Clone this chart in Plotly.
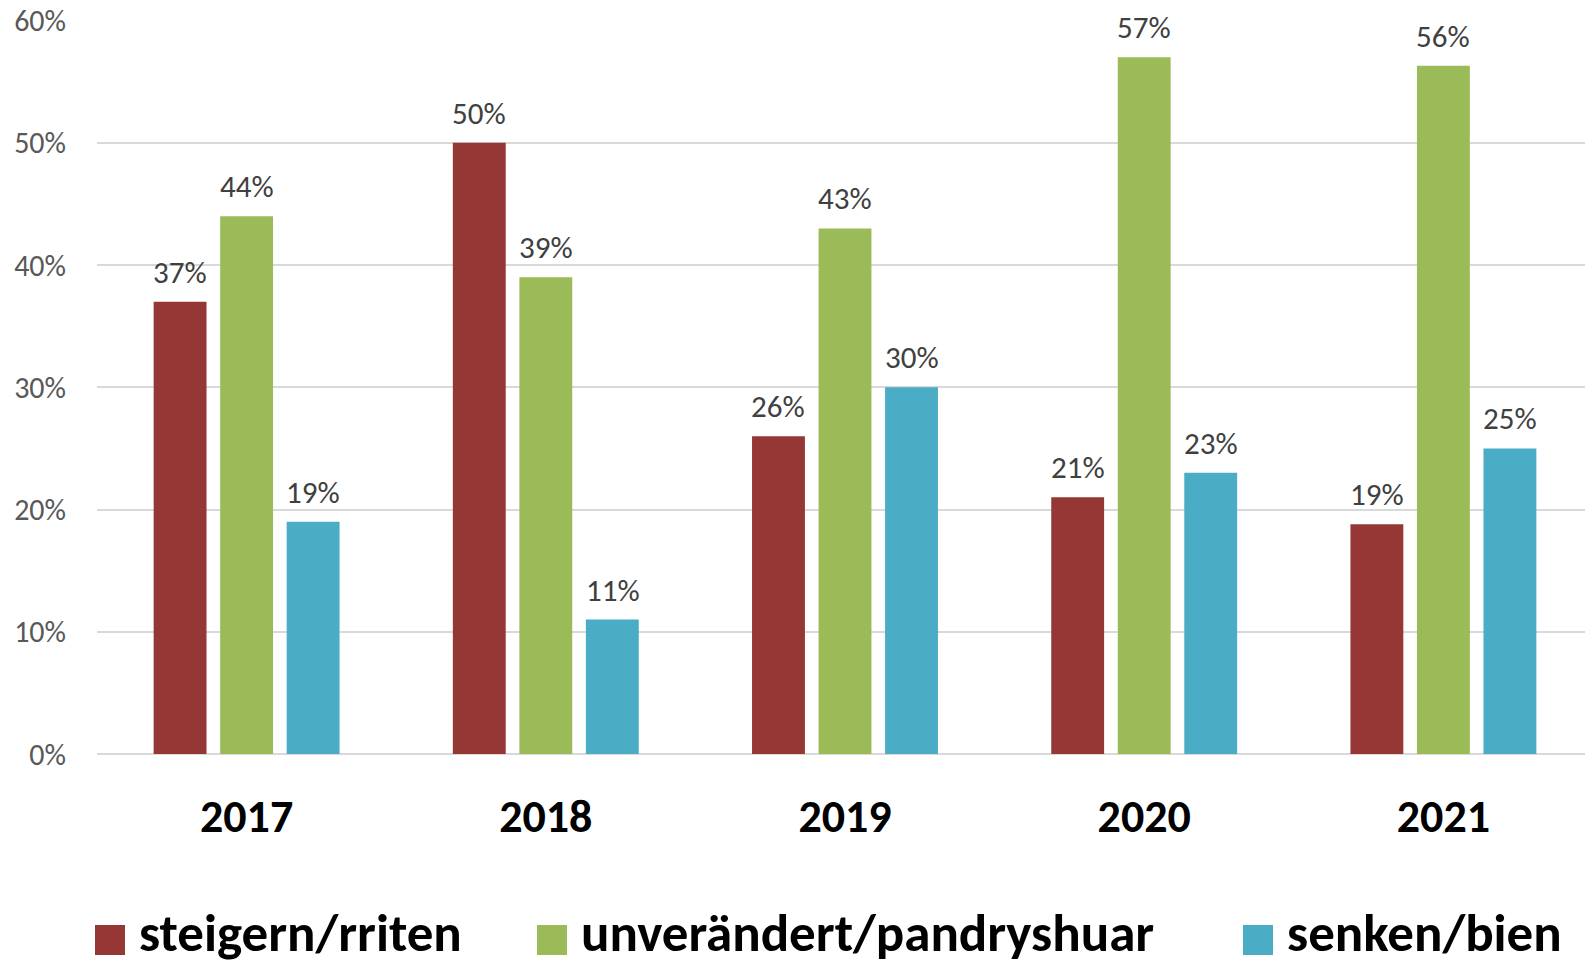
import plotly.graph_objects as go

years = ["2017", "2018", "2019", "2020", "2021"]
series_names = ["steigern/rriten", "unverändert/pandryshuar", "senken/bien"]
steigern = [37, 50, 26, 21, 18.8]
unveraendert = [44, 39, 43, 57, 56.3]
senken = [19, 11, 30, 23, 25]
colors = ["#953735", "#9bbb59", "#4bacc6"]
y_ticks = [0, 10, 20, 30, 40, 50, 60]

FONT = "Calibri, Carlito, Lato, sans-serif"
all_series = [steigern, unveraendert, senken]

# the page body has an 8px margin, so the figure is laid out 8px smaller
OFF = 8
W, H = 1593 - OFF, 964 - OFF
L, R, T, B = 97 - OFF, 0, 20 - OFF, 210
PW, PH = W - L - R, H - T - B

fig = go.Figure()
for name, vals, col in zip(series_names, all_series, colors):
    fig.add_trace(go.Bar(
        x=years, y=[v / 100 for v in vals], name=name,
        marker=dict(color=col, line=dict(width=0)),
        showlegend=False,
    ))

# data labels above bars
slot = 66.7
for i, vals in enumerate(all_series):
    for j, v in enumerate(vals):
        fig.add_annotation(
            x=j, y=v / 100, xref="x", yref="y",
            text=f"{round(v)}%", showarrow=False,
            xshift=(i - 1) * slot, yshift=9, yanchor="bottom",
            font=dict(family=FONT, size=31, color="#404040"),
        )

# manual legend (page pixel positions converted to paper coords)
legend_items = [(95, 140), (537, 582), (1243, 1288)]
def px_x(px):
    return (px - OFF - L) / PW
def px_y(py):
    return (H - B - (py - OFF)) / PH

LEG_SIZE = 53
baseline = 954
for (sx, tx), name, col in zip(legend_items, series_names, colors):
    fig.add_shape(type="rect", xref="paper", yref="paper",
                  x0=px_x(sx), x1=px_x(sx + 30),
                  y0=px_y(925), y1=px_y(955),
                  fillcolor=col, line=dict(width=0))
    fig.add_annotation(xref="paper", yref="paper",
                       x=px_x(tx - 3), y=px_y(baseline - 0.387 * LEG_SIZE),
                       xanchor="left", yanchor="middle", showarrow=False,
                       text=f"<b>{name}</b>",
                       font=dict(family=FONT, size=LEG_SIZE, color="#000000"))

fig.update_layout(
    width=W, height=H,
    margin=dict(l=L, r=R, t=T, b=B, autoexpand=False),
    paper_bgcolor="white", plot_bgcolor="white",
    barmode="group", bargap=0.333, bargroupgap=0.205,
    showlegend=False,
    font=dict(family=FONT),
)
fig.update_xaxes(
    type="category",
    range=[-0.5, 4.5], showgrid=False, showline=False, zeroline=False,
    ticks="", ticklabelstandoff=31, automargin=False,
    tickfont=dict(family=FONT, size=46, color="#000000", weight="bold"),
)
fig.update_yaxes(
    range=[0, 0.6005], tickvals=[t / 100 for t in y_ticks],
    ticktext=[f"{t}%" for t in y_ticks],
    showgrid=True, gridcolor="#d9d9d9", gridwidth=2,
    zeroline=True, zerolinecolor="#d9d9d9", zerolinewidth=2,
    showline=False, ticks="", ticklabelstandoff=30, automargin=False,
    ticklabeloverflow="allow",
    tickfont=dict(family=FONT, size=30, color="#595959"),
)

fig.write_html("out.html")
